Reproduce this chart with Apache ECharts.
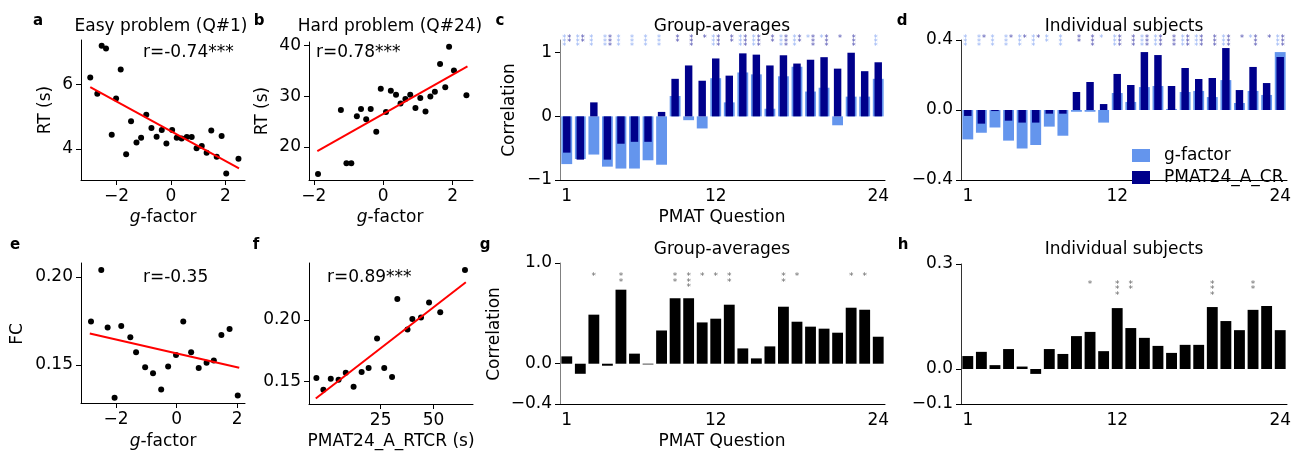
<!DOCTYPE html>
<html>
<head>
<meta charset="utf-8">
<script src="https://cdn.jsdelivr.net/npm/echarts@6/dist/echarts.min.js"></script>
<style>
  html, body { margin: 0; background: #fff; }
  #chart { width: 1298px; height: 451px; }
</style>
</head>
<body>
<div id="chart"></div>
<script>
const questions = ['1','2','3','4','5','6','7','8','9','10','11','12','13','14','15','16','17','18','19','20','21','22','23','24']

// a: easy problem, RT vs g-factor
const easyG = [-2.97, -2.71, -2.55, -2.39, -2.18, -2.02, -1.85, -1.65, -1.47, -1.27, -1.10, -0.91, -0.72, -0.53, -0.34, -0.17, 0.04, 0.21, 0.39, 0.58, 0.76, 0.94, 1.13, 1.31, 1.48, 1.68, 1.86, 2.03, 2.48]
const easyRT = [6.21, 5.71, 7.19, 7.11, 4.44, 5.56, 6.46, 3.84, 4.86, 4.20, 4.35, 5.06, 4.65, 4.38, 4.59, 4.17, 4.59, 4.35, 4.32, 4.37, 4.37, 4.02, 4.09, 3.88, 4.57, 3.76, 4.40, 3.24, 3.70]
const easyFitG = [-2.97, 2.5]
const easyFitRT = [5.91, 3.40]

// b: hard problem
const hardG = [-1.88, -1.22, -1.06, -0.92, -0.76, -0.64, -0.49, -0.36, -0.20, -0.07, 0.08, 0.22, 0.37, 0.50, 0.64, 0.78, 0.93, 1.07, 1.22, 1.36, 1.49, 1.64, 1.79, 1.90, 2.04, 2.40]
const hardRT = [14.7, 27.3, 16.8, 16.8, 26.1, 27.5, 25.5, 27.5, 23.0, 31.5, 26.9, 31.1, 30.3, 28.6, 29.5, 30.3, 27.7, 29.7, 27.0, 30.0, 30.9, 36.4, 31.8, 39.8, 35.1, 30.2]
const hardFitG = [-1.90, 2.43]
const hardFitRT = [19.2, 35.9]

// c: group-average correlations
const groupG = [-0.75, -0.67, -0.60, -0.79, -0.82, -0.82, -0.69, -0.76, 0.32, -0.06, -0.19, 0.60, 0.22, 0.69, 0.66, 0.12, 0.63, 0.78, 0.39, 0.45, -0.14, 0.31, 0.31, 0.59]
const groupP = [-0.57, -0.68, 0.22, -0.68, -0.43, -0.40, -0.40, 0.07, 0.59, 0.80, 0.56, 0.91, 0.64, 0.99, 0.97, 0.80, 0.96, 0.83, 0.89, 0.93, 0.75, 1.00, 0.71, 0.85]
const groupSigG = [3, 3, 3, 3, 3, 3, 3, 3, 0, 0, 0, 3, 0, 3, 3, 0, 3, 3, 1, 1, 0, 0, 0, 3]
const groupSigP = [2, 2, 0, 3, 0, 0, 0, 0, 2, 3, 1, 3, 2, 3, 3, 2, 3, 2, 3, 3, 1, 3, 0, 0]

// d: individual-subject correlations
const indivG = [-0.168, -0.13, -0.10, -0.175, -0.22, -0.20, -0.095, -0.147, -0.01, -0.01, -0.072, 0.097, 0.046, 0.131, 0.137, 0.006, 0.103, 0.109, 0.074, 0.171, 0.04, 0.109, 0.086, 0.331]
const indivP = [-0.034, -0.078, -0.006, -0.061, -0.072, -0.072, -0.021, -0.021, 0.103, 0.16, 0.034, 0.206, 0.143, 0.331, 0.314, 0.137, 0.24, 0.177, 0.183, 0.354, 0.114, 0.246, 0.154, 0.303]
const indivSigG = [3, 3, 3, 3, 3, 3, 2, 3, 0, 0, 1, 3, 0, 3, 3, 0, 3, 3, 0, 3, 0, 1, 0, 3]
const indivSigP = [0, 1, 0, 1, 1, 1, 0, 0, 2, 3, 0, 3, 3, 3, 3, 3, 3, 3, 3, 3, 1, 3, 1, 3]

// e: FC vs g-factor
const fcG = [-2.83, -2.49, -2.28, -2.05, -1.83, -1.53, -1.34, -1.04, -0.78, -0.51, -0.28, -0.02, 0.22, 0.48, 0.73, 0.99, 1.23, 1.48, 1.75, 2.02]
const fcE = [0.1747, 0.2038, 0.1713, 0.1315, 0.1721, 0.1658, 0.1572, 0.1487, 0.1453, 0.1362, 0.1492, 0.1557, 0.1747, 0.1572, 0.1483, 0.1513, 0.1526, 0.1670, 0.1704, 0.1328]
const fcFitG = [-2.87, 2.07]
const fcFitE = [0.1679, 0.1485]

// f: FC vs PMAT24_A_RTCR
const rtcr = [-5.4, -2.1, 1.4, 5.1, 8.5, 12.2, 16.0, 19.3, 23.3, 26.7, 30.4, 32.9, 37.7, 40.0, 44.1, 47.9, 53.2, 64.9]
const fcF = [0.153, 0.1435, 0.1524, 0.1516, 0.1573, 0.1459, 0.1578, 0.1611, 0.1849, 0.1611, 0.1538, 0.2168, 0.1922, 0.2008, 0.2019, 0.2141, 0.2062, 0.2403]
const rtcrFit = [-5.7, 65.3]
const fcFitF = [0.1365, 0.2305]

// g / h: FC-RT correlation per question
const fcGroup = [0.073, -0.10, 0.487, -0.02, 0.735, 0.10, -0.007, 0.33, 0.65, 0.65, 0.41, 0.447, 0.586, 0.152, 0.053, 0.172, 0.566, 0.417, 0.368, 0.348, 0.308, 0.556, 0.536, 0.268]
const fcGroupSig = [0, 0, 1, 0, 2, 0, 0, 0, 2, 3, 1, 1, 2, 0, 0, 0, 2, 1, 0, 0, 0, 1, 1, 0]
const fcIndiv = [0.037, 0.049, 0.011, 0.057, 0.007, -0.014, 0.057, 0.043, 0.094, 0.106, 0.051, 0.174, 0.117, 0.089, 0.066, 0.046, 0.069, 0.069, 0.177, 0.137, 0.111, 0.169, 0.18, 0.111]
const fcIndivSig = [0, 0, 0, 0, 0, 0, 0, 0, 0, 1, 0, 3, 2, 0, 0, 0, 0, 0, 3, 0, 0, 2, 0, 0]

const FONT = 'DejaVu Sans'
const LIGHT = '#6495ED'
const DARK = '#00008B'

const fmt = d => v => (v < 0 ? '\u2212' : '') + Math.abs(v).toFixed(d)
const keyTick = i => i === 0 || i === 11 || i === 23

function valAxis(grid, min, max, ticks, dec, lineColor) {
  return {
    type: 'value', gridIndex: grid, min, max,
    splitLine: { show: false },
    axisLine: { show: true, onZero: false, lineStyle: { color: lineColor || '#000', width: 1 } },
    axisTick: { show: true, length: 5, customValues: ticks, lineStyle: { color: '#000' } },
    axisLabel: { customValues: ticks, formatter: fmt(dec), color: '#000', fontSize: 17, fontFamily: FONT, margin: 8 },
  }
}

function catAxis(grid, show) {
  return {
    type: 'category', gridIndex: grid, data: questions, show,
    axisLine: { onZero: false, lineStyle: { color: '#000', width: 1 } },
    axisTick: { alignWithLabel: true, interval: keyTick, length: 5, lineStyle: { color: '#000' } },
    axisLabel: { interval: keyTick, color: '#000', fontSize: 17, fontFamily: FONT, margin: 8 },
  }
}

function dots(xi, yi, xs, ys) {
  return {
    type: 'scatter', xAxisIndex: xi, yAxisIndex: yi, symbolSize: 6,
    itemStyle: { color: '#000', opacity: 1 }, data: xs.map((x, i) => [x, ys[i]]),
  }
}

function fit(xi, yi, xs, ys) {
  return {
    type: 'line', xAxisIndex: xi, yAxisIndex: yi, showSymbol: false, z: 3,
    lineStyle: { color: '#ff0000', width: 2 }, data: xs.map((x, i) => [x, ys[i]]),
  }
}

function stars(xi, yi, counts, top, color, dx, dy, size, lh) {
  const pts = []
  counts.forEach((n, i) => { if (n) pts.push([questions[i], top, n]) })
  return {
    type: 'scatter', xAxisIndex: xi, yAxisIndex: yi, symbolSize: 0, clip: false, silent: true, z: 5,
    data: pts,
    label: {
      show: true, position: 'inside', verticalAlign: 'top', offset: [dx, dy],
      color, fontSize: size, lineHeight: lh, fontFamily: FONT,
      formatter: p => Array(p.value[2]).fill('*').join('\n'),
    },
  }
}

function txt(x, y, text, opts) {
  return Object.assign({
    type: 'text', x, y,
    style: Object.assign({ text, fontSize: 17, fontFamily: FONT, fill: '#000', align: 'center', verticalAlign: 'middle' }, opts && opts.style),
  }, opts && opts.el)
}

const gf = { style: { rich: { i: { fontStyle: 'italic', fontSize: 17, fontFamily: FONT } } } }
const bold = { style: { fontWeight: 'bold', fontSize: 15 } }
const rot = { el: { rotation: Math.PI / 2 } }

const chart = echarts.init(document.getElementById('chart'))
chart.setOption({
  animation: false,
  backgroundColor: '#fff',
  grid: [
    { left: 81, top: 40, width: 164, height: 140 },
    { left: 309, top: 42, width: 164, height: 138 },
    { left: 560, top: 40, width: 325, height: 140 },
    { left: 961, top: 40, width: 326, height: 140 },
    { left: 81, top: 263, width: 164, height: 140 },
    { left: 309, top: 263, width: 164, height: 141 },
    { left: 560, top: 263, width: 325, height: 141 },
    { left: 961, top: 264, width: 326, height: 140 },
  ],
  xAxis: [
    valAxis(0, -3.31, 2.72, [-2, 0, 2], 0),
    valAxis(1, -2.14, 2.59, [-2, 0, 2], 0),
    catAxis(2, true),
    catAxis(2, false),
    catAxis(3, true),
    catAxis(3, false),
    valAxis(4, -3.16, 2.26, [-2, 0, 2], 0),
    valAxis(5, -8.9, 68.7, [25, 50], 0),
    catAxis(6, true),
    catAxis(7, true),
  ],
  yAxis: [
    valAxis(0, 3.04, 7.37, [4, 6], 0),
    valAxis(1, 13.5, 40.73, [20, 30, 40], 0),
    valAxis(2, -1, 1.2, [-1, 0, 1], 0, '#808080'),
    valAxis(3, -0.4, 0.4, [-0.4, 0, 0.4], 1, '#333'),
    valAxis(4, 0.1285, 0.2078, [0.15, 0.2], 2),
    valAxis(5, 0.132, 0.246, [0.15, 0.2], 2),
    valAxis(6, -0.4, 1.0, [-0.4, 0, 1.0], 1, '#808080'),
    valAxis(7, -0.1, 0.3, [-0.1, 0, 0.3], 1, '#333'),
  ],
  legend: {
    data: ['g-factor', 'PMAT24_A_CR'], orient: 'vertical', left: 1127, top: 142,
    itemWidth: 18, itemHeight: 13, itemGap: 5, icon: 'rect', selectedMode: false,
    textStyle: { fontSize: 17, fontFamily: FONT, color: '#000', padding: [0, 0, 0, 9] },
  },
  series: [
    dots(0, 0, easyG, easyRT), fit(0, 0, easyFitG, easyFitRT),
    dots(1, 1, hardG, hardRT), fit(1, 1, hardFitG, hardFitRT),
    { type: 'bar', name: 'g-factor', xAxisIndex: 2, yAxisIndex: 2, data: groupG, barWidth: '80%', itemStyle: { color: LIGHT } },
    { type: 'bar', name: 'PMAT24_A_CR', xAxisIndex: 3, yAxisIndex: 2, data: groupP, barWidth: '55%', itemStyle: { color: DARK } },
    stars(2, 2, groupSigG, 1.2, '#7a9ef0', -2.5, -3, 8, 4),
    stars(2, 2, groupSigP, 1.2, '#1a1a99', 2.5, -3, 8, 4),
    { type: 'bar', name: 'g-factor', xAxisIndex: 4, yAxisIndex: 3, data: indivG, barWidth: '80%', itemStyle: { color: LIGHT } },
    { type: 'bar', name: 'PMAT24_A_CR', xAxisIndex: 5, yAxisIndex: 3, data: indivP, barWidth: '55%', itemStyle: { color: DARK } },
    stars(4, 3, indivSigG, 0.4, '#7a9ef0', -2.5, -3, 8, 4),
    stars(4, 3, indivSigP, 0.4, '#1a1a99', 2.5, -3, 8, 4),
    dots(6, 4, fcG, fcE), fit(6, 4, fcFitG, fcFitE),
    dots(7, 5, rtcr, fcF), fit(7, 5, rtcrFit, fcFitF),
    { type: 'bar', xAxisIndex: 8, yAxisIndex: 6, data: fcGroup, barWidth: '80%', itemStyle: { color: '#000' } },
    stars(8, 6, fcGroupSig, 0.89, '#444', 0, 0, 9, 5.5),
    { type: 'bar', xAxisIndex: 9, yAxisIndex: 7, data: fcIndiv, barWidth: '80%', itemStyle: { color: '#000' } },
    stars(9, 7, fcIndivSig, 0.249, '#444', 0, 0, 9, 5.5),
  ],
  graphic: [
    txt(38, 21, 'a', bold), txt(259, 21, 'b', bold), txt(500, 21, 'c', bold), txt(902, 21, 'd', bold),
    txt(15, 245, 'e', bold), txt(256, 245, 'f', bold), txt(485, 245, 'g', bold), txt(903, 245, 'h', bold),
    txt(161, 27, 'Easy problem (Q#1)'), txt(390, 27, 'Hard problem (Q#24)'),
    txt(722, 27, 'Group-averages'), txt(1124, 27, 'Individual subjects'),
    txt(722, 250, 'Group-averages'), txt(1124, 250, 'Individual subjects'),
    txt(143, 53, 'r=-0.74***', { style: { align: 'left' } }),
    txt(316, 53, 'r=0.78***', { style: { align: 'left' } }),
    txt(143, 278, 'r=-0.35', { style: { align: 'left' } }),
    txt(327, 278, 'r=0.89***', { style: { align: 'left' } }),
    txt(46, 110, 'RT (s)', rot), txt(263, 111, 'RT (s)', rot), txt(510, 110, 'Correlation', rot),
    txt(18, 334, 'FC', rot), txt(495, 334, 'Correlation', rot),
    txt(163, 218, '{i|g}-factor', gf), txt(390, 218, '{i|g}-factor', gf), txt(722, 218, 'PMAT Question'),
    txt(163, 442, '{i|g}-factor', gf), txt(391, 442, 'PMAT24_A_RTCR (s)'), txt(722, 442, 'PMAT Question'),
  ],
})
</script>
</body>
</html>
